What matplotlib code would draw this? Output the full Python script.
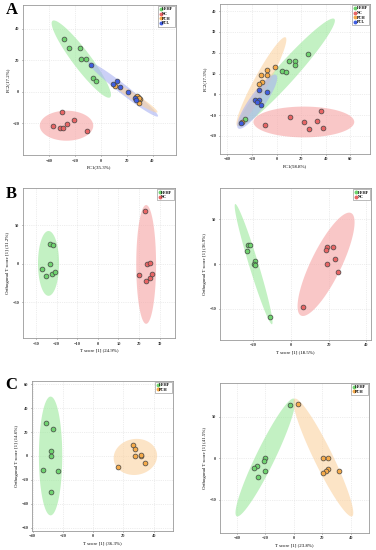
import numpy as np
import matplotlib
matplotlib.use('Agg')
import matplotlib.pyplot as plt
from matplotlib.lines import Line2D

plt.rcParams['font.family'] = ['Liberation Serif', 'DejaVu Serif']
plt.rcParams['font.weight'] = 'bold'

# colours per group
cols = {'HFHF': '#6fd36f', 'NC': '#e86464', 'PCH': '#f5aa4a', 'PCL': '#3f5de0'}
fills = {'HFHF': '#9be89b', 'NC': '#f6a3a3', 'PCH': '#fbd2a0', 'PCL': '#a9b2f2'}

# ---- A left: PCA, 4 groups
a1_hfhf_x = [-28.7, -24.6, -16.2, -15.1, -11.0, -5.9, -3.8]
a1_hfhf_y = [33.3, 28.0, 28.0, 21.0, 20.6, 8.9, 7.0]
a1_nc_x = [-29.5, -20.5, -36.7, -31.8, -29.0, -26.2, -10.3]
a1_nc_y = [-12.9, -17.6, -21.6, -22.9, -22.7, -20.6, -24.8]
a1_pch_x = [11.3, 27.4, 28.7, 30.5, 29.2, 28.0, 29.8]
a1_pch_y = [4.0, -3.2, -3.4, -4.7, -7.0, -2.6, -4.0]
a1_pcl_x = [-7.7, 9.2, 12.8, 14.9, 21.3, 26.7, 26.9]
a1_pcl_y = [17.2, 5.3, 6.8, 3.2, 0.0, -4.0, -5.1]

# ---- A right: PCA, 4 groups
a2_hfhf_x = [25.4, 10.0, 15.1, 15.4, 4.1, 7.6, -25.7]
a2_hfhf_y = [19.6, 15.9, 15.9, 14.1, 11.1, 10.8, -11.9]
a2_nc_x = [10.8, 22.2, 36.5, 33.0, 26.2, 37.8, -9.5]
a2_nc_y = [-10.9, -13.3, -7.9, -12.8, -16.9, -16.2, -14.9]
a2_pch_x = [-1.6, -8.1, -13.0, -8.1, -12.2, -14.6, -28.4]
a2_pch_y = [13.3, 11.7, 9.1, 9.1, 5.9, 5.0, -13.2]
a2_pcl_x = [-14.0, -8.1, -17.6, -14.3, -15.7, -13.0, -29.2]
a2_pcl_y = [2.1, 1.1, -2.7, -2.7, -3.5, -5.3, -14.0]

# ---- B left: OPLS-DA HFHF vs NC
b1_hfhf_x = [-23.1, -21.9, -23.4, -27.1, -25.2, -22.1, -21.0]
b1_hfhf_y = [25.0, 23.7, 0.0, -7.3, -15.9, -13.8, -10.3]
b1_nc_x = [22.7, 23.7, 25.5, 19.8, 23.4, 25.2, 26.1]
b1_nc_y = [68.5, 0.0, 1.3, -14.7, -22.4, -18.5, -12.9]

# ---- B right
b2_hfhf_x = [-22.7, -21.9, -23.5, -19.1, -19.6, -19.3, -11.3]
b2_hfhf_y = [20.9, 20.9, 14.9, 3.0, 0.4, -1.1, -58.6]
b2_nc_x = [6.2, 19.1, 18.6, 22.5, 23.2, 19.1, 24.8]
b2_nc_y = [-48.1, 18.7, 16.0, 18.7, 6.0, 0.0, -9.3]

# ---- C left: OPLS-DA HFHF vs PCH
c1_hfhf_x = [-31.0, -26.6, -27.5, -28.1, -33.0, -23.1, -27.5]
c1_hfhf_y = [27.4, 22.9, 4.5, 0.0, -11.7, -12.6, -29.9]
c1_pch_x = [26.6, 27.7, 27.9, 31.4, 31.9, 34.1, 16.3]
c1_pch_y = [9.0, 6.2, 0.0, -0.3, 0.6, -5.6, -9.5]

# ---- C right
c2_hfhf_x = [-2.6, -20.5, -21.2, -26.1, -27.8, -20.5, -25.6]
c2_hfhf_y = [64.1, 0.0, -3.6, -8.9, -11.3, -14.9, -23.0]
c2_pch_x = [3.1, 20.7, 24.2, 24.2, 22.8, 20.2, 31.5]
c2_pch_y = [64.9, 0.4, -0.4, -12.9, -14.9, -18.1, -15.3]

# confidence ellipses: centre, semi-axis vector u, semi-axis vector v (data units)
ell_a1 = {'HFHF': ((-15.0, 20.75), (-22.2, 24.2), (5.5, 3.45)),
          'PCL': ((17.2, 1.7), (26.9, -17.2), (2.2, 2.35)),
          'PCH': ((26.7, -3.8), (-17.0, 9.1), (1.4, 1.8)),
          'NC': ((-26.4, -21.4), (20.6, 0.0), (0.0, 9.5))}
ell_a2 = {'NC': ((22.2, -13.3), (41.0, 0.0), (0.0, 7.4)),
          'HFHF': ((8.0, 10.5), (39.0, 25.75), (6.0, -3.2)),
          'PCH': ((-12.3, 6.1), (19.6, 21.3), (5.2, -1.7)),
          'PCL': ((-15.7, -3.55), (15.4, 12.85), (5.3, -2.2))}
ell_b1 = {'HFHF': ((-23.9, 0.4), (0.0, 42.0), (5.1, 0.0)),
          'NC': ((23.4, -0.9), (0.0, 77.0), (4.8, 0.0))}
ell_b2 = {'HFHF': ((-19.85, 0.0), (-9.75, 67.2), (2.37, 1.53)),
          'NC': ((18.6, -0.2), (13.3, 57.3), (7.2, -7.4))}
ell_c1 = {'HFHF': ((-28.1, 0.0), (0.0, 49.8), (7.7, 0.0)),
          'PCH': ((27.9, -0.8), (14.3, 2.0), (-1.0, 15.0))}
ell_c2 = {'HFHF': ((-20.1, 0.8), (20.1, 71.0), (5.93, -4.93)),
          'PCH': ((20.7, 0.8), (-20.2, 71.0), (5.9, 4.96))}


def ellipse(ax, c, u, v, color):
    t = np.linspace(0, 2 * np.pi, 200)
    x = c[0] + np.cos(t) * u[0] + np.sin(t) * v[0]
    y = c[1] + np.cos(t) * u[1] + np.sin(t) * v[1]
    ax.fill(x, y, color=color, alpha=0.6, lw=0, zorder=1)


def panel(rect, groups, ells, xlim, ylim, xt, yt, xlab, ylab):
    ax = fig.add_axes(rect)
    for g, (c, u, v) in ells.items():
        ellipse(ax, c, u, v, fills[g])
    for g, (xs, ys) in groups.items():
        ax.scatter(xs, ys, s=12, color=cols[g], edgecolor='#444444', lw=0.5, zorder=3)
    ax.set_xlim(xlim)
    ax.set_ylim(ylim)
    ax.set_xticks(xt)
    ax.set_yticks(yt)
    ax.grid(True, color='#dddddd', ls=':', lw=0.5)
    ax.set_axisbelow(True)
    ax.tick_params(labelsize=3.2, length=1, width=0.4, pad=1.5, colors='#333333')
    for s in ax.spines.values():
        s.set_color('#999999')
        s.set_linewidth(0.6)
    ax.set_xlabel(xlab, fontsize=3.5, labelpad=2)
    ax.set_ylabel(ylab, fontsize=3.5, labelpad=2)
    hs = [Line2D([], [], marker='o', ls='', ms=1.8, color=cols[g], mec=cols[g]) for g in groups]
    leg = ax.legend(hs, list(groups), loc='upper right', fontsize=3, handletextpad=0.1,
                    borderpad=0.3, labelspacing=0.15, handlelength=0.6,
                    borderaxespad=0.3, fancybox=False, framealpha=1)
    leg.get_frame().set_edgecolor('#888888')
    leg.get_frame().set_linewidth(0.4)
    return ax


fig = plt.figure(figsize=(3.76, 5.5), dpi=100)

panel([0.061, 0.718, 0.407, 0.273],
      {'HFHF': (a1_hfhf_x, a1_hfhf_y), 'NC': (a1_nc_x, a1_nc_y),
       'PCH': (a1_pch_x, a1_pch_y), 'PCL': (a1_pcl_x, a1_pcl_y)},
      ell_a1, (-60, 58), (-40, 55), [-40, -20, 0, 20, 40], [-20, 0, 20, 40],
      'PC1(35.3%)', 'PC2(17.2%)')
panel([0.585, 0.720, 0.399, 0.273],
      {'HFHF': (a2_hfhf_x, a2_hfhf_y), 'NC': (a2_nc_x, a2_nc_y),
       'PCH': (a2_pch_x, a2_pch_y), 'PCL': (a2_pcl_x, a2_pcl_y)},
      ell_a2, (-46, 76), (-28.7, 43.5), [-40, -20, 0, 20, 40, 60],
      [-20, -10, 0, 10, 20, 30, 40], 'PC1(58.8%)', 'PC2(17.3%)')
panel([0.061, 0.385, 0.404, 0.273],
      {'HFHF': (b1_hfhf_x, b1_hfhf_y), 'NC': (b1_nc_x, b1_nc_y)},
      ell_b1, (-36.3, 37.3), (-96.6, 98), [-30, -20, -10, 0, 10, 20, 30], [-50, 0, 50],
      'T score [1] (24.9%)', 'Orthogonal T score [1] (31.2%)')
panel([0.585, 0.382, 0.402, 0.276],
      {'HFHF': (b2_hfhf_x, b2_hfhf_y), 'NC': (b2_nc_x, b2_nc_y)},
      ell_b2, (-37.7, 42.5), (-84.7, 85), [-20, 0, 20, 40], [-50, 0, 50],
      'T score [1] (18.5%)', 'Orthogonal T score [1] (36.9%)')
panel([0.085, 0.035, 0.375, 0.273],
      {'HFHF': (c1_hfhf_x, c1_hfhf_y), 'PCH': (c1_pch_x, c1_pch_y)},
      ell_c1, (-40.4, 52.7), (-62.7, 63.2), [-40, -20, 0, 20, 40],
      [-60, -40, -20, 0, 20, 40, 60],
      'T score [1] (36.3%)', 'Orthogonal T score [1] (14.6%)')
panel([0.585, 0.031, 0.396, 0.273],
      {'HFHF': (c2_hfhf_x, c2_hfhf_y), 'PCH': (c2_pch_x, c2_pch_y)},
      ell_c2, (-52, 52.7), (-90.3, 91), [-40, -20, 0, 20, 40], [-50, 0, 50],
      'T score [1] (23.8%)', 'Orthogonal T score [1] (41.5%)')

for lab, y in [('A', 0.982), ('B', 0.648), ('C', 0.300)]:
    fig.text(0.015, y, lab, fontsize=12, fontweight='bold', va='center')

fig.savefig('out.png', dpi=100)
